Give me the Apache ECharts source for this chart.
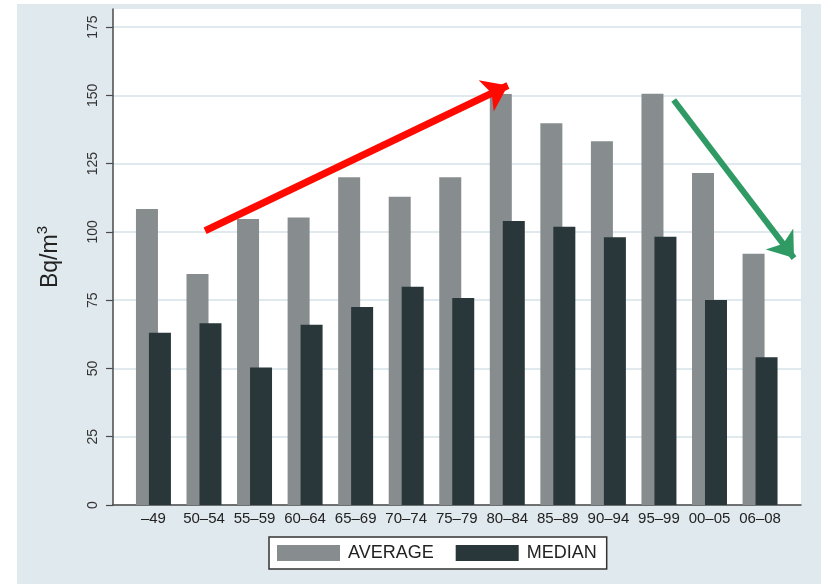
<!DOCTYPE html>
<html>
<head>
<meta charset="utf-8">
<script src="https://cdn.jsdelivr.net/npm/echarts@6/dist/echarts.min.js"></script>
<style>
  html, body { margin: 0; padding: 0; background: #ffffff; }
  #chart { width: 821px; height: 585px; }
</style>
</head>
<body>
<div id="chart"></div>
<script>
// Construction periods (x categories)
const periods = ['–49', '50–54', '55–59', '60–64', '65–69', '70–74', '75–79',
                 '80–84', '85–89', '90–94', '95–99', '00–05', '06–08'];
// Indoor radon concentration, Bq/m3
const averageValues = [108.4, 84.6, 104.7, 105.3, 120.0, 112.9, 120.0, 150.5, 139.8, 133.2, 150.6, 121.6, 92.0];
const medianValues  = [63.1, 66.5, 50.3, 66.0, 72.5, 79.9, 75.8, 104.0, 101.9, 98.0, 98.2, 75.1, 54.1];
// y-axis tick values
const yTicks = [0, 25, 50, 75, 100, 125, 150, 175];
// Trend arrows, given as [period index, Bq/m3] start and end points
const riseArrow = [[1.15, 100.4], [7.14, 153.6]];
const fallArrow = [[10.42, 148.3], [12.8, 90.4]];

const FONT = 'Liberation Sans, Arial, Helvetica, sans-serif';
const periodIndex = periods.map((_, i) => i);

const chart = echarts.init(document.getElementById('chart'), null, { renderer: 'canvas' });

chart.setOption({
  animation: false,
  backgroundColor: '#ffffff',
  textStyle: { fontFamily: FONT },
  graphic: [{
    type: 'rect',
    z: -100,
    shape: { x: 17, y: 4, width: 804, height: 580 },
    style: { fill: '#e0e9ee' }
  }],
  grid: {
    left: 113, right: 20, top: 9, bottom: 80,
    show: true, backgroundColor: '#ffffff', borderWidth: 0
  },
  legend: {
    left: 269, top: 537,
    padding: [7, 10, 7, 8],
    itemGap: 22,
    itemWidth: 63, itemHeight: 16,
    icon: 'rect',
    backgroundColor: '#ffffff',
    borderColor: '#333333', borderWidth: 1.5, borderRadius: 0,
    textStyle: { fontFamily: FONT, fontSize: 18, color: '#222222', padding: [0, 0, 0, 3] },
    data: ['AVERAGE', 'MEDIAN']
  },
  xAxis: {
    type: 'value',
    min: -0.8, max: 12.81,
    axisLine: { show: true, onZero: false, lineStyle: { color: '#4a4a4a', width: 1.5 } },
    axisTick: { show: false },
    splitLine: { show: false },
    axisLabel: {
      customValues: periodIndex,
      formatter: v => periods[Math.round(v)],
      fontFamily: FONT, fontSize: 15, color: '#222222', margin: 6
    }
  },
  yAxis: {
    type: 'value',
    min: 0, max: 181.6, interval: 25,
    name: 'Bq/m{sup|3}',
    nameLocation: 'middle',
    nameGap: 46,
    nameTextStyle: {
      fontFamily: FONT, fontSize: 23, color: '#222222', lineHeight: 32,
      rich: {
        sup: { fontFamily: FONT, fontSize: 15, color: '#222222', verticalAlign: 'top' }
      }
    },
    axisLine: { show: true, onZero: false, lineStyle: { color: '#4a4a4a', width: 1.5 } },
    axisTick: { show: true, length: 7, customValues: yTicks, lineStyle: { color: '#4a4a4a', width: 1.2 } },
    axisLabel: {
      customValues: yTicks,
      rotate: 90,
      fontFamily: FONT, fontSize: 14, color: '#333333', margin: 13
    },
    splitLine: { show: true, lineStyle: { color: '#d6e2e8', width: 1.5 } }
  },
  series: [
    {
      name: 'AVERAGE',
      type: 'bar',
      barWidth: 22,
      barGap: '-41%',
      itemStyle: { color: '#878c8e' },
      data: averageValues.map((v, i) => [i, v]),
      markLine: {
        silent: true,
        animation: false,
        symbol: ['none', 'arrow'],
        symbolSize: [26, 24],
        label: { show: false },
        emphasis: { disabled: true },
        data: [
          [{ coord: riseArrow[0], lineStyle: { color: '#ff0a00', width: 7, type: 'solid' } },
           { coord: riseArrow[1] }],
          [{ coord: fallArrow[0], lineStyle: { color: '#2f9a64', width: 6, type: 'solid' } },
           { coord: fallArrow[1] }]
        ]
      }
    },
    {
      name: 'MEDIAN',
      type: 'bar',
      barWidth: 22,
      barGap: '-41%',
      itemStyle: { color: '#29363a' },
      data: medianValues.map((v, i) => [i, v])
    }
  ]
});
</script>
</body>
</html>
